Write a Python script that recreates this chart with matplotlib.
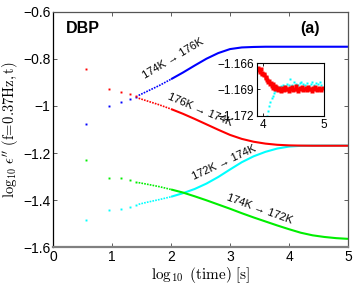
import matplotlib
matplotlib.use("Agg")
import matplotlib.pyplot as plt
import numpy as np

plt.rcParams["font.family"] = ["Liberation Sans", "DejaVu Sans"]
plt.rcParams["mathtext.fontset"] = "cm"

# --------------------------------------------------------------------------
# data: early discrete points (log10 t) and later part of each curve
# --------------------------------------------------------------------------
dot_x = [0.556, 0.954, 1.158, 1.297, 1.401]
blue_dots = [-1.077, -1.000, -0.983, -0.971, -0.962]
red_dots = [-0.844, -0.926, -0.939, -0.949, -0.958]
cyan_dots = [-1.485, -1.444, -1.436, -1.428, -1.421]
green_dots = [-1.230, -1.306, -1.308, -1.315, -1.323]

curve_x = [1.45, 1.6, 1.8, 2.0, 2.2, 2.4, 2.6, 2.8, 3.0, 3.2, 3.4, 3.6, 3.8,
           4.0, 4.2, 4.4, 4.6, 4.8, 5.0]
blue_y = [-0.955, -0.937, -0.913, -0.886, -0.858, -0.828, -0.799, -0.775,
          -0.758, -0.751, -0.749, -0.748, -0.748, -0.748, -0.748, -0.748,
          -0.748, -0.748, -0.748]
red_y = [-0.967, -0.979, -0.995, -1.013, -1.033, -1.055, -1.078, -1.101,
         -1.123, -1.140, -1.152, -1.160, -1.165, -1.1675, -1.1685, -1.169,
         -1.169, -1.169, -1.169]
cyan_y = [-1.418, -1.409, -1.398, -1.386, -1.371, -1.353, -1.330, -1.302,
          -1.270, -1.239, -1.214, -1.195, -1.181, -1.1725, -1.1695, -1.1686,
          -1.1685, -1.1684, -1.1684]
green_y = [-1.326, -1.333, -1.343, -1.355, -1.368, -1.384, -1.401, -1.419,
           -1.437, -1.456, -1.474, -1.491, -1.508, -1.524, -1.539, -1.550,
           -1.557, -1.562, -1.565]

# inset (zoom on the final plateau)
inset_red_x = [3.92, 3.93, 3.95, 3.96, 3.98, 3.99, 4.01, 4.02, 4.04, 4.05,
               4.07, 4.08, 4.10, 4.11, 4.13, 4.14, 4.16, 4.17, 4.19, 4.20,
               4.22, 4.24, 4.26, 4.28, 4.30, 4.32, 4.34, 4.36, 4.38, 4.40,
               4.42, 4.44, 4.46, 4.48, 4.50, 4.52, 4.54, 4.56, 4.58, 4.60,
               4.62, 4.64, 4.66, 4.68, 4.70, 4.72, 4.74, 4.76, 4.78, 4.80,
               4.82, 4.84, 4.86, 4.88, 4.90, 4.92, 4.94, 4.96, 4.98]
inset_red_y = [-1.1666, -1.1668, -1.1670, -1.1667, -1.1672, -1.1671, -1.1674,
               -1.1673, -1.1677, -1.1676, -1.1679, -1.1681, -1.1680, -1.1684,
               -1.1683, -1.1686, -1.1684, -1.1688, -1.1686, -1.1690, -1.1687,
               -1.1691, -1.1688, -1.1690, -1.1692, -1.1688, -1.1691, -1.1687,
               -1.1690, -1.1689, -1.1692, -1.1688, -1.1690, -1.1687, -1.1691,
               -1.1689, -1.1686, -1.1690, -1.1692, -1.1688, -1.1690, -1.1687,
               -1.1691, -1.1689, -1.1688, -1.1691, -1.1687, -1.1690, -1.1689,
               -1.1692, -1.1688, -1.1690, -1.1687, -1.1691, -1.1689, -1.1688,
               -1.1690, -1.1691, -1.1688]
inset_cyan_x = [4.06, 4.08, 4.10, 4.12, 4.14, 4.16, 4.18, 4.20, 4.22, 4.24,
                4.26, 4.28, 4.30, 4.33, 4.36, 4.39, 4.42, 4.45, 4.48, 4.51,
                4.54, 4.57, 4.60, 4.63, 4.66, 4.69, 4.72, 4.75, 4.78, 4.81,
                4.84, 4.87, 4.90, 4.93, 4.96]
inset_cyan_y = [-1.1720, -1.1714, -1.1709, -1.1704, -1.1700, -1.1697, -1.1694,
                -1.1692, -1.1690, -1.1689, -1.1687, -1.1688, -1.1686, -1.1685,
                -1.1686, -1.1684, -1.1685, -1.1678, -1.1685, -1.1682, -1.1684,
                -1.1685, -1.1683, -1.1681, -1.1684, -1.1685, -1.1683, -1.1686,
                -1.1684, -1.1682, -1.1685, -1.1683, -1.1684, -1.1681, -1.1685]

yticks = [-1.6, -1.4, -1.2, -1.0, -0.8, -0.6]
ytick_labels = ["\u22121.6", "\u22121.4", "\u22121.2", "\u22121", "\u22120.8", "\u22120.6"]
xticks = [0, 1, 2, 3, 4, 5]

BLUE, RED, CYAN, GREEN = "#0000ff", "#ff0000", "#00ffff", "#00ee00"

fig = plt.figure(figsize=(3.54, 2.84), dpi=100)
ax = fig.add_axes([0.150, 0.130, 0.833, 0.828])

for dots, ys, c in [(blue_dots, blue_y, BLUE), (cyan_dots, cyan_y, CYAN),
                    (green_dots, green_y, GREEN), (red_dots, red_y, RED)]:
    ax.plot(dot_x, dots, "s", ms=1.4, color=c, mec="none")
    cx = np.array(curve_x)
    cy = np.array(ys)
    early = cx <= 2.0
    ax.plot(cx[early], cy[early], color=c, lw=1.2, ls=(0, (1, 0.7)))
    late = cx >= 2.0
    ax.plot(cx[late], cy[late], color=c, lw=1.5, solid_capstyle="butt")

ax.set_xlim(0, 5)
ax.set_ylim(-1.6, -0.6)
ax.set_xticks(xticks)
ax.set_xticklabels([str(v) for v in xticks])
ax.set_yticks(yticks)
ax.set_yticklabels(ytick_labels)
ax.tick_params(direction="in", length=3, width=0.6, top=True, right=True,
               labelsize=10, pad=2, color="#444444")
for s in ax.spines.values():
    s.set_color("#555555")
    s.set_linewidth(0.9)
ax.spines["left"].set_color("black")
ax.spines["bottom"].set_linewidth(1.6)
ax.spines["bottom"].set_color("#808080")

ax.set_xlabel(r"$\log_{10}\ (\mathrm{time})\ [\mathrm{s}]$", fontsize=11, labelpad=1)
ax.set_ylabel(r"$\log_{10}\,\epsilon^{\prime\prime}\ (\mathrm{f\!=\!0.37Hz,t})$",
              fontsize=10.5, labelpad=2)

ax.text(0.10, 0.93, "DBP", transform=ax.transAxes, fontsize=11.5,
        fontweight="bold", ha="center", va="center")
ax.text(0.87, 0.93, "(a)", transform=ax.transAxes, fontsize=11.5,
        fontweight="bold", ha="center", va="center")

lab_kw = dict(fontsize=8, ha="center", va="center", rotation_mode="anchor")
ax.text(2.04, -0.797, "174K \u2192 176K", rotation=31, **lab_kw)
ax.text(2.50, -1.018, "176K \u2192 174K", rotation=-23, **lab_kw)
ax.text(2.90, -1.240, "172K \u2192 174K", rotation=25, **lab_kw)
ax.text(3.50, -1.438, "174K \u2192 172K", rotation=-20, **lab_kw)

# inset
axi = fig.add_axes([0.726, 0.592, 0.189, 0.186])
axi.plot(inset_cyan_x, inset_cyan_y, "s", ms=2.0, color=CYAN, mec="none")
axi.plot(inset_red_x, inset_red_y, "s", ms=2.2, color=RED, mec="none")
axi.set_xlim(3.9, 5.0)
axi.set_ylim(-1.172, -1.166)
axi.set_xticks([4, 5])
axi.set_xticklabels(["4", "5"])
axi.set_yticks([-1.172, -1.169, -1.166])
axi.set_yticklabels(["\u22121.172", "\u22121.169", "\u22121.166"])
axi.tick_params(direction="in", length=2, width=0.6, top=True, right=True,
                labelsize=8.5, pad=2)
for s in axi.spines.values():
    s.set_linewidth(0.8)

fig.savefig("out.png", dpi=100)
